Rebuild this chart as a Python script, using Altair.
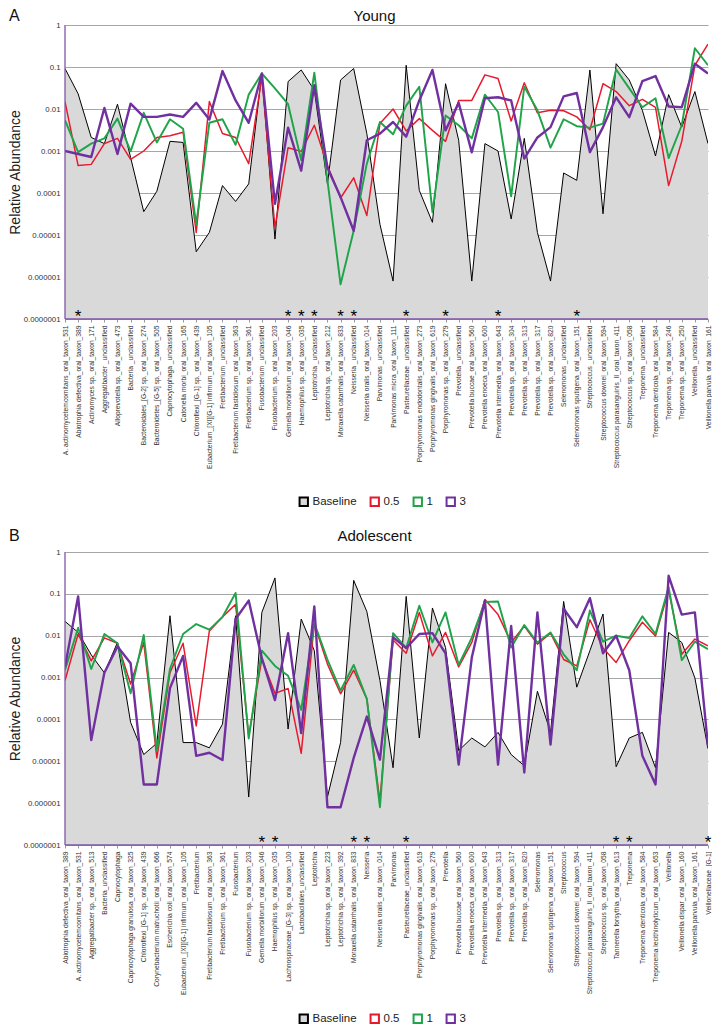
import altair as alt
import pandas as pd

SERIES = ["Baseline", "0.5", "1", "3"]

# ---------------- Panel A : Young ----------------
YOUNG_CATS = [
    "A. actinomycetemcomitans_oral_taxon_531", "Abiotrophia defectiva_oral_taxon_389",
    "Actinomyces sp._oral_taxon_171", "Aggregatibacter _unclassified",
    "Alloprevotella sp._oral_taxon_473", "Bacteria _unclassified",
    "Bacteroidales_[G-2] sp._oral_taxon_274", "Bacteroidetes_[G-5] sp._oral_taxon_505",
    "Capnocytophaga _unclassified", "Catonella morbi_oral_taxon_165",
    "Chloroflexi_[G-1] sp._oral_taxon_439", "Eubacterium_[XI][G-1] infirmum_oral_taxon_105",
    "Fretibacterium _unclassified", "Fretibacterium fastidiosum_oral_taxon_363",
    "Fretibacterium sp._oral_taxon_361", "Fusobacterium _unclassified",
    "Fusobacterium sp._oral_taxon_203", "Gemella morbillorum_oral_taxon_046",
    "Haemophilus sp._oral_taxon_035", "Leptotrichia _unclassified",
    "Leptotrichia sp._oral_taxon_212", "Moraxella catarrhalis_oral_taxon_833",
    "Neisseria _unclassified", "Neisseria oralis_oral_taxon_014",
    "Parvimonas _unclassified", "Parvimonas micra_oral_taxon_111",
    "Pasteurellaceae _unclassified", "Porphyromonas endodontalis_oral_taxon_273",
    "Porphyromonas gingivalis_oral_taxon_619", "Porphyromonas sp._oral_taxon_279",
    "Prevotella _unclassified", "Prevotella buccae_oral_taxon_560",
    "Prevotella enoeca_oral_taxon_600", "Prevotella intermedia_oral_taxon_643",
    "Prevotella sp._oral_taxon_304", "Prevotella sp._oral_taxon_313",
    "Prevotella sp._oral_taxon_317", "Prevotella sp._oral_taxon_820",
    "Selenomonas _unclassified", "Selenomonas sputigena_oral_taxon_151",
    "Streptococcus _unclassified", "Streptococcus downei_oral_taxon_594",
    "Streptococcus parasanguinis_II_oral_taxon_411", "Streptococcus sp._oral_taxon_058",
    "Treponema _unclassified", "Treponema denticola_oral_taxon_584",
    "Treponema sp._oral_taxon_246", "Treponema sp._oral_taxon_250",
    "Veillonella _unclassified", "Veillonella parvula_oral_taxon_161",
]
YOUNG_BASELINE = [
    0.092, 0.023, 0.0021, 0.0015, 0.013, 0.0007, 3.6e-5, 1.1e-4, 0.0017, 0.0016,
    4e-6, 1.15e-5, 1.5e-4, 6.3e-5, 1.65e-4, 0.07, 8e-6, 0.045, 0.085, 0.028,
    1.65e-4, 0.049, 0.092, 0.0026, 1.8e-5, 8e-7, 0.11, 1.15e-4, 2e-5, 0.04,
    0.0018, 8e-7, 0.0015, 0.001, 2.4e-5, 0.002, 1.15e-5, 8e-7, 3e-4, 2e-4,
    0.085, 3.2e-5, 0.12, 0.049, 0.0093, 0.00076, 0.022, 0.0037, 0.026, 0.0015,
]
YOUNG_05 = [
    0.015, 0.00045, 0.00048, 0.0015, 0.002, 0.00063, 0.001, 0.0021, 0.0023, 0.0028,
    1.15e-5, 0.015, 0.0026, 0.0021, 0.0005, 0.058, 1.5e-5, 0.0012, 0.00098, 0.0041,
    0.00045, 7.6e-5, 2.3e-4, 2.9e-5, 0.0045, 0.01, 0.003, 0.0059, 0.0031, 0.0017,
    0.016, 0.016, 0.065, 0.053, 0.0052, 0.042, 0.0081, 0.0093, 0.0091, 0.0065,
    0.0032, 0.04, 0.026, 0.012, 0.017, 0.011, 0.00015, 0.0017, 0.11, 0.35,
]
YOUNG_1 = [
    0.0054, 0.00094, 0.0015, 0.002, 0.0059, 0.00098, 0.0081, 0.0016, 0.0057, 0.0034,
    1.8e-5, 0.0047, 0.0057, 0.0014, 0.022, 0.07, 0.031, 0.013, 0.0006, 0.073,
    0.0002, 6.7e-7, 1.26e-5, 0.0005, 0.0049, 0.0025, 0.012, 0.034, 3.5e-5, 0.007,
    0.0041, 0.002, 0.022, 0.0085, 8.3e-5, 0.034, 0.0093, 0.0012, 0.0057, 0.0039,
    0.0036, 0.0045, 0.087, 0.031, 0.011, 0.018, 0.00068, 0.0041, 0.28, 0.11,
]
YOUNG_3 = [
    0.001, 0.00085, 0.00072, 0.0106, 0.00085, 0.0134, 0.0065, 0.0065, 0.0074, 0.0065,
    0.014, 0.0056, 0.08, 0.016, 0.0047, 0.07, 5.5e-5, 0.0036, 0.00034, 0.037,
    0.0004, 8e-5, 1.26e-5, 0.0018, 0.0026, 0.0049, 0.0022, 0.016, 0.085, 0.0031,
    0.014, 0.00093, 0.018, 0.019, 0.016, 0.00066, 0.0021, 0.0037, 0.02, 0.024,
    0.00094, 0.0037, 0.019, 0.0064, 0.046, 0.061, 0.0115, 0.011, 0.12, 0.07,
]
YOUNG_STARS = [
    "Abiotrophia defectiva_oral_taxon_389", "Gemella morbillorum_oral_taxon_046",
    "Haemophilus sp._oral_taxon_035", "Leptotrichia _unclassified",
    "Moraxella catarrhalis_oral_taxon_833", "Neisseria _unclassified",
    "Pasteurellaceae _unclassified", "Porphyromonas sp._oral_taxon_279",
    "Prevotella intermedia_oral_taxon_643", "Selenomonas sputigena_oral_taxon_151",
]

# ---------------- Panel B : Adolescent ----------------
ADOL_CATS = [
    "Abiotrophia defectiva_oral_taxon_389", "A. actinomycetemcomitans_oral_taxon_531",
    "Aggregatibacter sp._oral_taxon_513", "Bacteria_unclassified",
    "Capnocytophaga", "Capnocytophaga granulosa_oral_taxon_325",
    "Chloroflexi_[G-1] sp._oral_taxon_439", "Corynebacterium matruchotii_oral_taxon_666",
    "Escherichia coli_oral_taxon_574", "Eubacterium_[XI][G-1] infirmum_oral_taxon_105",
    "Fretibacterium", "Fretibacterium fastidiosum_oral_taxon_363",
    "Fretibacterium sp._oral_taxon_361", "Fusobacterium",
    "Fusobacterium sp._oral_taxon_203", "Gemella morbillorum_oral_taxon_046",
    "Haemophilus sp._oral_taxon_035", "Lachnospiraceae_[G-3] sp._oral_taxon_100",
    "Lactobacillales_unclassified", "Leptotrichia",
    "Leptotrichia sp._oral_taxon_223", "Leptotrichia sp._oral_taxon_392",
    "Moraxella catarrhalis_oral_taxon_833", "Neisseria",
    "Neisseria oralis_oral_taxon_014", "Parvimonas",
    "Pasteurellaceae_unclassified", "Porphyromonas gingivalis_oral_taxon_619",
    "Porphyromonas sp._oral_taxon_279", "Prevotella",
    "Prevotella buccae_oral_taxon_560", "Prevotella enoeca_oral_taxon_600",
    "Prevotella intermedia_oral_taxon_643", "Prevotella sp._oral_taxon_313",
    "Prevotella sp._oral_taxon_317", "Prevotella sp._oral_taxon_820",
    "Selenomonas", "Selenomonas sputigena_oral_taxon_151",
    "Streptococcus", "Streptococcus downei_oral_taxon_594",
    "Streptococcus parasanguinis_II_oral_taxon_411", "Streptococcus sp._oral_taxon_058",
    "Tannerella forsythia_oral_taxon_613", "Treponema",
    "Treponema denticola_oral_taxon_584", "Treponema lecithinolyticum_oral_taxon_653",
    "Veillonella", "Veillonella dispar_oral_taxon_160",
    "Veillonella parvula_oral_taxon_161", "Veillonellaceae_[G-1]",
]
ADOL_BASELINE = [
    0.022, 0.012, 0.0035, 0.0013, 0.0069, 8.5e-5, 1.45e-5, 2.7e-5, 0.03, 2.8e-5,
    2.8e-5, 2.1e-5, 7.7e-5, 0.03, 1.4e-6, 0.036, 0.24, 5.9e-5, 0.025, 0.0044,
    1.4e-6, 2.8e-5, 0.21, 0.038, 0.00085, 7e-6, 0.087, 3.6e-5, 0.046, 0.0052,
    1.8e-5, 3.6e-5, 2.2e-5, 4.9e-5, 1.45e-5, 7.8e-6, 0.00047, 4.9e-5, 0.066, 0.00059,
    0.0044, 0.033, 7.4e-6, 3.6e-5, 4.9e-5, 7e-6, 0.012, 0.0069, 0.00098, 2e-5,
]
ADOL_05 = [
    0.00085, 0.011, 0.0025, 0.0089, 0.0066, 0.0007, 0.0069, 1.2e-5, 0.0013, 0.0066,
    7e-5, 0.013, 0.028, 0.056, 4e-5, 0.0028, 0.00042, 0.00055, 1.55e-5, 0.019,
    0.0021, 0.00041, 0.0015, 0.00031, 1.1e-6, 0.0079, 0.0038, 0.036, 0.0033, 0.012,
    0.0018, 0.0069, 0.073, 0.032, 0.0069, 0.017, 0.0063, 0.0115, 0.0027, 0.0019,
    0.024, 0.0051, 0.0023, 0.0076, 0.021, 0.0098, 0.12, 0.0036, 0.0083, 0.0057,
]
ADOL_1 = [
    0.0015, 0.0155, 0.0016, 0.011, 0.0066, 0.00042, 0.0104, 1.8e-5, 0.0016, 0.011,
    0.019, 0.014, 0.028, 0.105, 3.5e-5, 0.0044, 0.0019, 0.0011, 0.00017, 0.02,
    0.0027, 0.00049, 0.002, 0.00031, 8e-7, 0.0115, 0.0051, 0.052, 0.0069, 0.036,
    0.002, 0.009, 0.064, 0.066, 0.0052, 0.018, 0.0069, 0.012, 0.0036, 0.0015,
    0.04, 0.0072, 0.01, 0.0088, 0.029, 0.011, 0.145, 0.0026, 0.0072, 0.0048,
]
ADOL_3 = [
    0.0018, 0.087, 3.2e-5, 0.0013, 0.0055, 0.0022, 2.8e-6, 2.8e-6, 0.00056, 0.0033,
    1.35e-5, 1.6e-5, 1.07e-5, 0.025, 0.069, 0.0029, 0.00029, 0.0115, 4.7e-5, 0.05,
    8e-7, 8e-7, 1.2e-5, 0.000117, 1.1e-5, 0.0091, 0.0051, 0.011, 0.0115, 0.0038,
    8.3e-6, 0.003, 0.069, 8.3e-6, 0.017, 5.4e-6, 0.036, 2.5e-5, 0.044, 0.016,
    0.079, 0.0038, 0.01, 0.0015, 1.35e-5, 2.8e-6, 0.27, 0.032, 0.036, 2.3e-5,
]
ADOL_STARS = [
    "Gemella morbillorum_oral_taxon_046", "Haemophilus sp._oral_taxon_035",
    "Moraxella catarrhalis_oral_taxon_833", "Neisseria",
    "Pasteurellaceae_unclassified", "Tannerella forsythia_oral_taxon_613",
    "Treponema", "Veillonellaceae_[G-1]",
]

Y_TICKS = [1, 0.1, 0.01, 0.001, 0.0001, 0.00001, 0.000001, 0.0000001]

STROKE_COLORS = ["#000000", "#e8192c", "#1fa44a", "#7030a0"]
FILL_COLORS = ["#d9d9d9", "#ffffff", "#ffffff", "#ffffff"]
LINE_WIDTHS = [1, 2.4, 2.4, 2.4]
AXIS_COLOR = "#7e57a6"
FONT = "Liberation Sans"

W = 643


def long_df(cats, series_values):
    rows = []
    for name, vals in zip(SERIES, series_values):
        for c, v in zip(cats, vals):
            rows.append({"cat": c, "series": name, "value": v})
    return pd.DataFrame(rows)


def panel(cats, series_values, stars, title, letter, height, head_y, legend_y):
    df = long_df(cats, series_values)
    xscale = alt.Scale(type="point", padding=0, domain=cats)
    yscale = alt.Scale(type="log", domain=[1e-7, 1])
    x = alt.X(
        "cat:N", scale=xscale, title=None,
        axis=alt.Axis(labelAngle=-90, labelFontSize=6.7, labelFont=FONT,
                      labelColor="#333333", labelPadding=3, labelLimit=0,
                      labelOverlap=False, ticks=True, tickSize=3,
                      tickColor="#999999", domain=False, grid=False),
    )
    y = alt.Y(
        "value:Q", scale=yscale, title="Relative Abundance",
        axis=alt.Axis(values=Y_TICKS, format=".7~f", labelFontSize=7.8,
                      labelFont=FONT, labelColor="#333333", labelPadding=5,
                      ticks=False, grid=True, gridColor="#a6a6a6",
                      gridWidth=1, domain=False,
                      titleFont=FONT, titleFontSize=14,
                      titleFontWeight="normal", titleColor="#222222",
                      titlePadding=0.5),
    )
    legend = alt.Legend(
        title=None, orient="none", legendX=233, legendY=legend_y,
        direction="horizontal", symbolType="square", symbolSize=70,
        symbolStrokeWidth=2, labelFont=FONT, labelFontSize=11.5,
        labelColor="#222222", columnPadding=9, labelOffset=3,
    )
    area = (
        alt.Chart(df)
        .transform_filter(alt.datum.series == "Baseline")
        .mark_area(clip=True)
        .encode(
            x=x, y=y, y2=alt.datum(1e-7),
            fill=alt.Fill("series:N",
                          scale=alt.Scale(domain=SERIES, range=FILL_COLORS),
                          legend=legend),
        )
    )
    lines = (
        alt.Chart(df)
        .mark_line(clip=True, strokeJoin="round")
        .encode(
            x=x, y=y,
            stroke=alt.Stroke("series:N",
                              scale=alt.Scale(domain=SERIES, range=STROKE_COLORS),
                              legend=legend),
            strokeWidth=alt.StrokeWidth("series:N",
                                        scale=alt.Scale(domain=SERIES, range=LINE_WIDTHS),
                                        legend=None),
        )
    )
    frame = pd.DataFrame({"k": [0]})
    left_edge = (
        alt.Chart(frame)
        .mark_rule(color=AXIS_COLOR, strokeWidth=1.3)
        .encode(x=alt.value(0), y=alt.value(0), y2=alt.value(height))
    )
    bottom_edge = (
        alt.Chart(frame)
        .mark_rule(color=AXIS_COLOR, strokeWidth=1.3)
        .encode(x=alt.value(0), x2=alt.value(W), y=alt.value(height))
    )
    star_chart = (
        alt.Chart(pd.DataFrame({"cat": stars}))
        .mark_text(text="*", fontSize=17, font=FONT, color="#000000",
                   baseline="alphabetic", dy=3)
        .encode(x=x, y=alt.datum(1e-7))
    )
    letter_chart = (
        alt.Chart(pd.DataFrame({"t": [letter]}))
        .mark_text(fontSize=16, font=FONT, color="#111111", align="left",
                   baseline="middle")
        .encode(text="t:N", x=alt.value(-56), y=alt.value(head_y))
    )
    title_chart = (
        alt.Chart(pd.DataFrame({"t": [title]}))
        .mark_text(fontSize=15, font=FONT, color="#111111", align="center",
                   baseline="middle")
        .encode(text="t:N", x=alt.value(W / 2 - 12), y=alt.value(head_y))
    )
    return alt.layer(area, lines, left_edge, bottom_edge, star_chart,
                     letter_chart, title_chart).properties(width=W, height=height)


young = panel(YOUNG_CATS, [YOUNG_BASELINE, YOUNG_05, YOUNG_1, YOUNG_3],
              YOUNG_STARS, "Young", "A", 294, -9, 471)
adol = panel(ADOL_CATS, [ADOL_BASELINE, ADOL_05, ADOL_1, ADOL_3],
             ADOL_STARS, "Adolescent", "B", 293, -16.5, 461)

chart = (
    alt.vconcat(young, adol, spacing=17)
    .resolve_legend(fill="independent", stroke="independent")
    .resolve_scale(x="independent")
    .properties(padding={"left": 0, "top": 0, "right": 0, "bottom": 0})
    .configure_view(stroke=None)
)

chart.save("out.html", embed_options={"renderer": "svg", "actions": False})
